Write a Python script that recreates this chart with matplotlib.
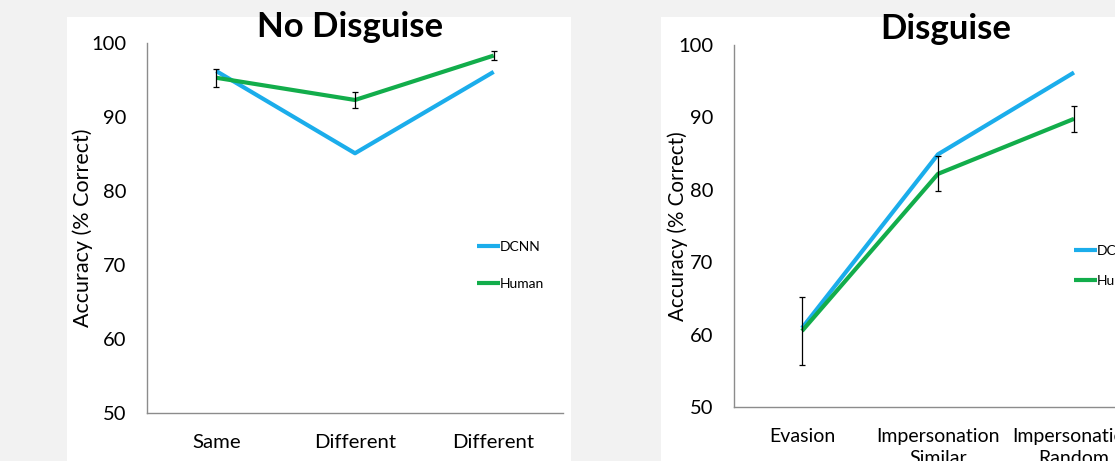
import matplotlib
matplotlib.use('Agg')
import matplotlib.pyplot as plt
from matplotlib.patches import Rectangle

plt.rcParams['font.family'] = ['Lato', 'DejaVu Sans']

W, H = 1115, 461

# data
nd_cats = ['Same', 'Different', 'Different']
nd_dcnn = [96.2, 85.1, 96.1]
nd_human = [95.3, 92.3, 98.3]
nd_human_err = [1.2, 1.1, 0.6]

d_cats = ['Evasion', 'Impersonation\nSimilar', 'Impersonation\nRandom']
d_dcnn = [60.9, 84.9, 96.2]
d_human = [60.5, 82.2, 89.8]
d_human_err = [4.7, 2.4, 1.8]

CLR_DCNN = '#1BADEB'
CLR_HUMAN = '#12AD4B'
CLR_SPINE = '#8c8c8c'


def px_axes(x0, y0, x1, y1):
    # pixel box (from top-left) -> figure fraction rect
    return [x0 / W, (H - y1) / H, (x1 - x0) / W, (y1 - y0) / H]


fig = plt.figure(figsize=(W / 100, H / 100), dpi=100)
fig.patch.set_facecolor('#f2f2f2')

# white panel backgrounds
for (x0, y0, x1, y1) in [(67, 17, 571, 461), (661, 17, 1130, 461)]:
    fig.patches.append(Rectangle((x0 / W, (H - y1) / H), (x1 - x0) / W, (y1 - y0) / H,
                                 transform=fig.transFigure, facecolor='white',
                                 edgecolor='none', zorder=-10))

# rect, title, title x, cats, dcnn, human, err, legend anchor, legend spacing,
# ylabel x, tick font, ylabel font
panels = [
    (px_axes(147, 43, 563, 413), 'No Disguise', 0.488, nd_cats, nd_dcnn, nd_human,
     nd_human_err, (0.793, 0.465), 1.8, -0.13, 14.7, 15.5),
    (px_axes(734, 45, 1142, 407), 'Disguise', 0.52, d_cats, d_dcnn, d_human,
     d_human_err, (0.833, 0.447), 1.3, -0.113, 14, 14.8),
]

for (rect, title, tx, cats, dcnn, human, err, leg_pos, leg_sp, ylab_x,
     tick_fs, ylab_fs) in panels:
    ax = fig.add_axes(rect)
    ax.set_facecolor('none')
    xs = range(len(cats))
    ax.plot(xs, dcnn, color=CLR_DCNN, lw=3, label='DCNN', solid_capstyle='butt')
    ax.plot(xs, human, color=CLR_HUMAN, lw=3, label='Human', solid_capstyle='butt')
    ax.errorbar(xs, human, yerr=err, fmt='none', ecolor='black', elinewidth=0.9,
                capsize=2.3, capthick=0.9, zorder=5)

    ax.set_xlim(-0.5, len(cats) - 0.5)
    ax.set_ylim(50, 100)
    ax.set_yticks(range(50, 101, 10))
    ax.set_xticks(list(xs))
    ax.set_xticklabels(cats, fontsize=tick_fs, linespacing=1.35)
    ax.tick_params(axis='y', length=0, pad=15, labelsize=14.5)
    ax.tick_params(axis='x', length=0, pad=15)
    for side in ['top', 'right']:
        ax.spines[side].set_visible(False)
    for side in ['left', 'bottom']:
        ax.spines[side].set_color(CLR_SPINE)
        ax.spines[side].set_linewidth(1.0)

    ax.set_ylabel('Accuracy (% Correct)', fontsize=ylab_fs)
    ax.yaxis.set_label_coords(ylab_x, 0.5)
    ax.set_title(title, fontsize=25, fontweight='bold', x=tx, pad=0)

    ax.legend(loc='upper left', bbox_to_anchor=leg_pos, frameon=False, fontsize=10,
              handlelength=1.65, handletextpad=0.0, labelspacing=leg_sp,
              borderpad=0, borderaxespad=0)

plt.savefig('out.png', dpi=100, facecolor=fig.get_facecolor())
